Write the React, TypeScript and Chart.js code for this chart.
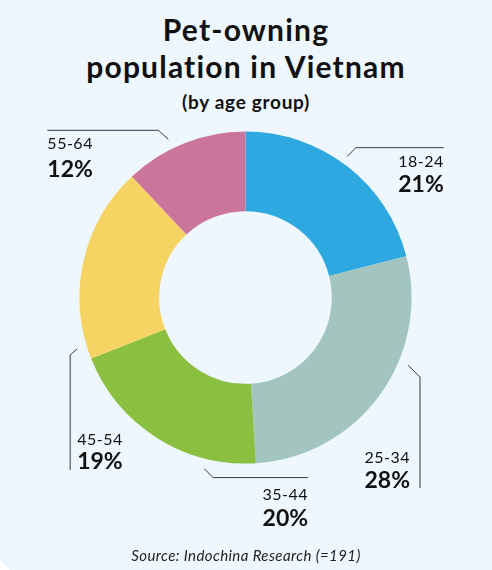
import React, { useEffect, useRef } from "react";
import { Chart, registerables } from "chart.js";

Chart.register(...registerables);

const categories = ["18-24", "25-34", "35-44", "45-54", "55-64"];
const shares = [21, 28, 20, 19, 12];
const percentLabels = ["21%", "28%", "20%", "19%", "12%"];
const sliceColors = ["#2EA8E0", "#A3C5BF", "#8BBF40", "#F6D463", "#CC759C"];

// leader-line styling for each label: angle (deg from top), gap from arc, elbow, run, text side
const leaderStyle = [
  { angle: 35.8, gap: 8, elbow: [8.5, -8.7], run: [88, 0], align: "right", tx: 0, ty1: 14, ty2: 36.5 },
  { angle: 112.6, gap: 10, elbow: [12, 12], run: [0, 111], align: "right", tx: -10, ty1: -30, ty2: -8 },
  { angle: 193.6, gap: 10, elbow: [9, 9], run: [95, 0], align: "right", tx: 0, ty1: 17, ty2: 41 },
  { angle: 253, gap: 10, elbow: [-7, 6], run: [0, 115], align: "left", tx: 7, ty1: -30, ty2: -8 },
  { angle: 334, gap: 10, elbow: [-10, -9], run: [-111, 0], align: "left", tx: 0, ty1: 14, ty2: 39 },
];

const leaderPlugin = {
  id: "leaders",
  afterDraw(chart: any) {
    const ctx = chart.ctx;
    const meta = chart.getDatasetMeta(0);
    meta.data.forEach((arc: any, i: number) => {
      const s = leaderStyle[i];
      const r = arc.outerRadius + s.gap;
      const a = (s.angle * Math.PI) / 180;
      const sx = arc.x + r * Math.sin(a);
      const sy = arc.y - r * Math.cos(a);
      const ex = sx + s.elbow[0];
      const ey = sy + s.elbow[1];
      const fx = ex + s.run[0];
      const fy = ey + s.run[1];
      ctx.save();
      ctx.strokeStyle = "#3a3a3a";
      ctx.lineWidth = 1;
      ctx.beginPath();
      ctx.moveTo(sx, sy);
      ctx.lineTo(ex, ey);
      ctx.lineTo(fx, fy);
      ctx.stroke();
      ctx.fillStyle = "#111";
      ctx.textAlign = s.align;
      ctx.textBaseline = "middle";
      const tx = fx + s.tx;
      ctx.font = "16px Lato";
      (ctx as any).letterSpacing = "0.5px";
      ctx.fillText(categories[i], tx, fy + s.ty1);
      ctx.font = "bold 23px Lato";
      (ctx as any).letterSpacing = "0px";
      ctx.fillText(percentLabels[i], tx, fy + s.ty2);
      ctx.restore();
    });
  },
};

export default function App() {
  const ref = useRef<HTMLCanvasElement>(null);
  useEffect(() => {
    document.body.style.margin = "0";
    const chart = new Chart(ref.current!, {
      type: "doughnut",
      data: {
        labels: categories,
        datasets: [
          {
            data: shares,
            backgroundColor: sliceColors,
            borderWidth: 0,
          },
        ],
      },
      options: {
        responsive: false,
        animation: false,
        cutout: "52%",
        layout: { padding: { left: 79.5, right: 80.5, top: 131.5, bottom: 106.5 } },
        plugins: { legend: { display: false }, tooltip: { enabled: false } },
      },
      plugins: [leaderPlugin],
    });
    return () => chart.destroy();
  }, []);
  return (
    <div
      style={{
        position: "relative",
        width: 492,
        height: 570,
        background: "#EEF6FE",
        fontFamily: "Lato, sans-serif",
        overflow: "hidden",
      }}
    >
      <div style={{ position: "absolute", top: 11, left: 0, width: 492, textAlign: "center", fontWeight: 700, fontSize: 30, letterSpacing: "1.2px", lineHeight: "37px", color: "#111" }}>
        Pet-owning
        <br />
        population in Vietnam
      </div>
      <div style={{ position: "absolute", top: 89, left: 0, width: 492, textAlign: "center", fontWeight: 700, fontSize: 19, letterSpacing: "0.7px", lineHeight: "26px", color: "#111" }}>
        (by age group)
      </div>
      <canvas ref={ref} width={492} height={570} style={{ position: "absolute", top: 0, left: 0 }} />
      <div style={{ position: "absolute", top: 545, left: 0, width: 492, textAlign: "center", fontStyle: "italic", fontSize: 15, letterSpacing: "0.4px", lineHeight: "20px", color: "#222" }}>
        Source: Indochina Research (=191)
      </div>
      <div style={{ position: "absolute", left: 0, bottom: 0, width: 0, height: 0, borderLeft: "10px solid #fff", borderTop: "10px solid transparent" }} />
    </div>
  );
}
